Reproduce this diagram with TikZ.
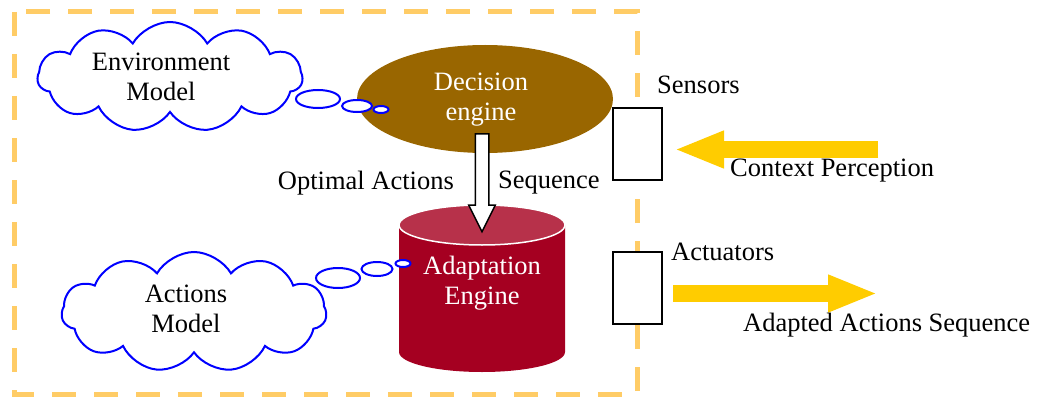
\documentclass[tikz,border=0pt]{standalone}
\usepackage{fontspec}
\setmainfont{Liberation Serif}
\usetikzlibrary{shapes.geometric,shapes.symbols,shapes.arrows,arrows.meta}
\definecolor{frameorange}{RGB}{255,204,102}
\definecolor{cloudblue}{RGB}{0,0,255}
\definecolor{decbrown}{RGB}{153,102,0}
\definecolor{adaptred}{RGB}{165,0,33}
\definecolor{adapttop}{RGB}{183,49,74}
\definecolor{arrowyellow}{RGB}{255,204,0}

\tikzset{
	lbl/.style={inner sep=1pt},
	thought/.style={shape=cloud, draw=cloudblue, line width=2, cloud puffs=11, cloud puff arc=120, aspect=2.4, align=center, inner sep=0},
	bubble/.style={shape=ellipse, draw=cloudblue, fill=white, line width=2, inner sep=0},
	iobox/.style={draw=black, fill=white, line width=2, inner sep=0, minimum width=49, minimum height=72},
	yarrow/.style={draw=arrowyellow, line width=17, -{Triangle[length=50,width=34]}}
}

\begin{document}
\begin{tikzpicture}[x=1pt, y=-1pt, font=\fontsize{26.5}{30}\selectfont]
		\useasboundingbox (0,0) rectangle (1038,401);
		\draw[frameorange, line width=5, dash pattern=on 24pt off 18pt] (14,12) rectangle (637,394);
		
		\node[shape=ellipse, fill=decbrown, minimum width=256, minimum height=108, inner sep=0] (dec) at (485,99) {};
		\node[lbl, text=white, align=center] (decl) at (481,100) {Decision\\engine};
		
		% adaptation engine drum
		\fill[adaptred] (399,225) -- (399,352) arc[start angle=180, end angle=360, x radius=83pt, y radius=20pt] -- (565,225) -- cycle;
		\filldraw[fill=adapttop, draw=white, line width=1.5] (482,225) ellipse [x radius=83pt, y radius=20pt];
		\node[lbl, text=white, align=center] (adapt) at (482,283) {Adaptation\\Engine};
		
		\node[thought, minimum width=265, minimum height=110] (envm) at (170,77) {};
		\node[lbl, align=center] (envl) at (161,77) {Environment\\Model};
		\node[bubble, minimum width=44, minimum height=18] (eb1) at (318,99) {};
		\node[bubble, minimum width=30, minimum height=12] (eb2) at (357,106) {};
		\node[bubble, minimum width=15, minimum height=7] (eb3) at (381,109.5) {};
		
		\node[thought, minimum width=265, minimum height=120] (actm) at (194,312) {};
		\node[lbl, align=center] (actml) at (186,309) {Actions\\Model};
		\node[bubble, minimum width=44, minimum height=20] (ab1) at (338,278) {};
		\node[bubble, minimum width=31, minimum height=14] (ab2) at (377,269) {};
		\node[bubble, minimum width=15, minimum height=7] (ab3) at (403,263.5) {};
		
		\node[single arrow, draw=black, fill=white, line width=1.5, rotate=-90, minimum height=98, minimum width=25, inner sep=6, single arrow head extend=6.5, single arrow tip angle=53] (oseq) at (482,176) {};
		\node[lbl, anchor=east] (optl) at (455,183) {Optimal Actions};
		\node[lbl, anchor=west] (seql) at (497,183) {Sequence};
		
		\node[iobox] (sens) at (637.5,144) {};
		\node[iobox] (act) at (637.5,288) {};
		\node[lbl, anchor=west] (sensl) at (656,85) {Sensors};
		\node[lbl, anchor=west] (actl) at (670,252) {Actuators};
		
		\coordinate (ctxin) at (878,149.5);
		\coordinate (actout) at (878,293.5);
		\draw[yarrow, shorten >=11] (ctxin) -- (ctxin -| sens.east);
		\draw[yarrow, shorten <=10] (actout -| act.east) -- (actout);
		\node[lbl, anchor=west] (ctxl) at (729,171) {Context Perception};
		\node[lbl, anchor=west] (adl) at (742,325) {Adapted Actions Sequence};
		
	\end{tikzpicture}
\end{document}
